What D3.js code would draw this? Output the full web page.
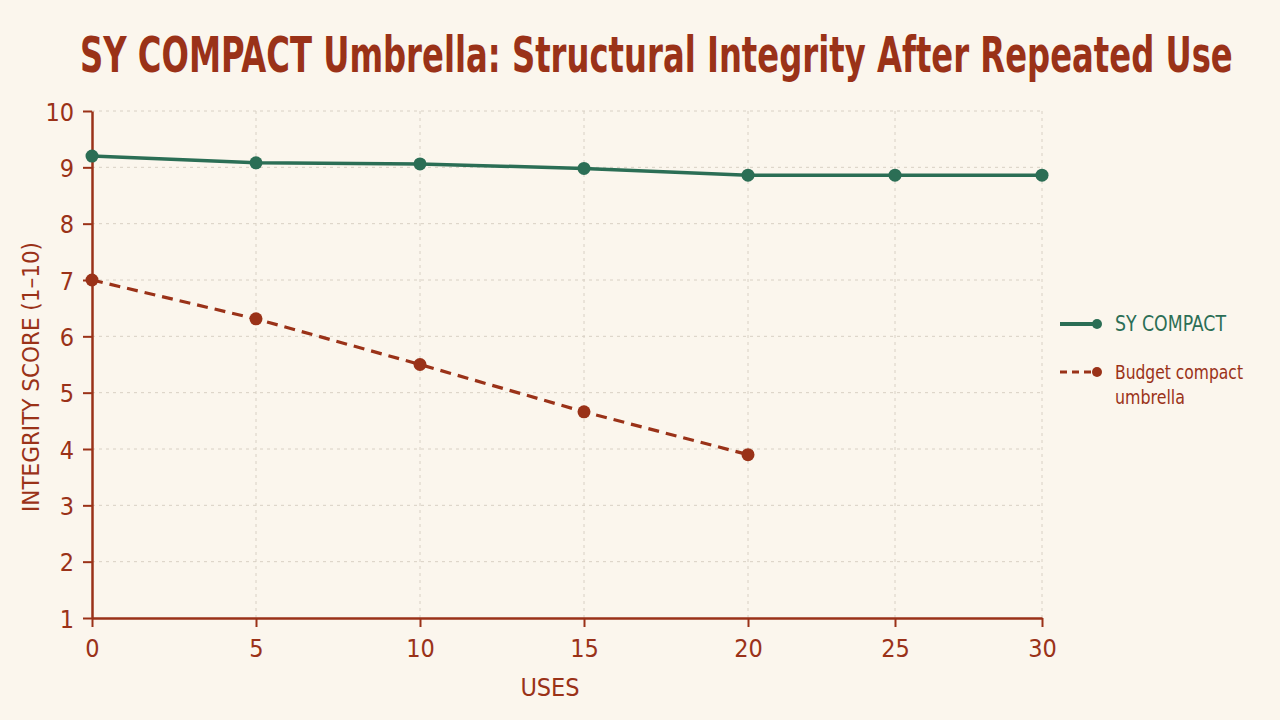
<!DOCTYPE html>
<html>
<head>
<meta charset="utf-8">
<script src="https://cdn.jsdelivr.net/npm/d3@7"></script>
<style>
  html, body { margin: 0; padding: 0; background: #fbf6ed; }
  svg { display: block; }
  text { font-family: "DejaVu Sans Condensed", "Liberation Sans Narrow", "Roboto", sans-serif; }
</style>
</head>
<body>
<svg id="chart" width="1280" height="720"></svg>
<script>
const titleText = "SY COMPACT Umbrella: Structural Integrity After Repeated Use";
const xLabel = "USES";
const yLabel = "INTEGRITY SCORE (1\u201310)";
const uses = [0, 5, 10, 15, 20, 25, 30];
const syCompact = [9.2, 9.08, 9.06, 8.98, 8.86, 8.86, 8.86];
const budgetUses = [0, 5, 10, 15, 20];
const budgetCompact = [7.0, 6.31, 5.5, 4.66, 3.9];
const xTicks = [0, 5, 10, 15, 20, 25, 30];
const yTicks = [1, 2, 3, 4, 5, 6, 7, 8, 9, 10];
const seriesNames = ["SY COMPACT", "Budget compact umbrella"];

const RED = "#9a3218";
const GREEN = "#2b6e55";
const GRID = "#d8d0c4";

const svg = d3.select("#chart");
svg.append("rect").attr("width", 1280).attr("height", 720).attr("fill", "#fbf6ed");

// fit a text horizontally to a target width by scaling it
function fitText(sel, left, baseline, width) {
  const w = sel.node().getComputedTextLength();
  const s = width / w;
  sel.attr("x", 0).attr("y", 0).attr("transform", `translate(${left},${baseline}) scale(${s},1)`);
}

// x scale: tick spacing in the reference narrows after 20 uses
const x = d3.scaleLinear().domain([0, 20, 30]).range([92, 748, 1042]);
const y = d3.scaleLinear().domain([1, 10]).range([618, 111]);

// grid
const grid = svg.append("g");
grid.selectAll(".hg").data(yTicks.filter(d => d > 1)).join("line")
  .attr("x1", x(0)).attr("x2", x(30))
  .attr("y1", d => y(d)).attr("y2", d => y(d))
  .attr("stroke", GRID).attr("stroke-width", 1).attr("stroke-dasharray", "3,4");
grid.selectAll(".vg").data(xTicks.filter(d => d > 0)).join("line")
  .attr("x1", d => x(d)).attr("x2", d => x(d))
  .attr("y1", y(10)).attr("y2", y(1))
  .attr("stroke", GRID).attr("stroke-width", 1).attr("stroke-dasharray", "3,4");

// axes
const xAxis = svg.append("g").attr("transform", `translate(0,${y(1)})`)
  .call(d3.axisBottom(x).tickValues(xTicks).tickSize(9).tickPadding(7).tickSizeOuter(0));
const yAxis = svg.append("g").attr("transform", `translate(${x(0)},0)`)
  .call(d3.axisLeft(y).tickValues(yTicks).tickSize(9).tickPadding(9).tickSizeOuter(0));
[xAxis, yAxis].forEach(a => {
  a.select(".domain").attr("stroke", RED).attr("stroke-width", 2.5);
  a.selectAll(".tick line").attr("stroke", RED).attr("stroke-width", 2);
  a.selectAll(".tick text").attr("fill", RED).attr("font-size", 25)
    .attr("font-family", "'DejaVu Sans Condensed', sans-serif");
});
xAxis.selectAll(".tick text").attr("dy", "0.9em");
yAxis.selectAll(".tick text").attr("dy", "0.36em");

// titles
const title = svg.append("text").attr("text-anchor", "start")
  .attr("fill", RED).attr("font-size", 50).attr("font-weight", "bold").text(titleText);
fitText(title, 80, 72, 1153);
svg.append("text").attr("x", 550).attr("y", 696).attr("text-anchor", "middle")
  .attr("fill", RED).attr("font-size", 25).text(xLabel);
svg.append("text").attr("transform", "translate(39,377) rotate(-90)").attr("text-anchor", "middle")
  .attr("textLength", 270).attr("lengthAdjust", "spacingAndGlyphs")
  .attr("fill", RED).attr("font-size", 23).text(yLabel);

// lines
const line = d3.line().x(d => x(d[0])).y(d => y(d[1]));
const syData = uses.map((u, i) => [u, syCompact[i]]);
const bData = budgetUses.map((u, i) => [u, budgetCompact[i]]);

svg.append("path").datum(bData).attr("d", line).attr("fill", "none")
  .attr("stroke", RED).attr("stroke-width", 3.2).attr("stroke-dasharray", "11,7");
svg.append("path").datum(syData).attr("d", line).attr("fill", "none")
  .attr("stroke", GREEN).attr("stroke-width", 3.5);

svg.selectAll(".bdot").data(bData).join("circle")
  .attr("cx", d => x(d[0])).attr("cy", d => y(d[1])).attr("r", 6.5).attr("fill", RED);
svg.selectAll(".sdot").data(syData).join("circle")
  .attr("cx", d => x(d[0])).attr("cy", d => y(d[1])).attr("r", 6.5).attr("fill", GREEN);

// legend
const lg = svg.append("g");
lg.append("line").attr("x1", 1060).attr("x2", 1097).attr("y1", 324).attr("y2", 324)
  .attr("stroke", GREEN).attr("stroke-width", 4);
lg.append("circle").attr("cx", 1097).attr("cy", 324).attr("r", 5).attr("fill", GREEN);
lg.append("text").attr("x", 1115).attr("y", 331).attr("fill", GREEN).attr("font-size", 21)
  .attr("textLength", 111).attr("lengthAdjust", "spacingAndGlyphs").text(seriesNames[0]);

lg.append("line").attr("x1", 1060).attr("x2", 1097).attr("y1", 372).attr("y2", 372)
  .attr("stroke", RED).attr("stroke-width", 3).attr("stroke-dasharray", "7,5");
lg.append("circle").attr("cx", 1097).attr("cy", 372).attr("r", 5).attr("fill", RED);
const bt = lg.append("text").attr("x", 1115).attr("y", 379).attr("fill", RED).attr("font-size", 20);
bt.append("tspan").attr("x", 1115).attr("textLength", 128).attr("lengthAdjust", "spacingAndGlyphs").text("Budget compact");
bt.append("tspan").attr("x", 1115).attr("dy", 25).attr("textLength", 70).attr("lengthAdjust", "spacingAndGlyphs").text("umbrella");
</script>
</body>
</html>
